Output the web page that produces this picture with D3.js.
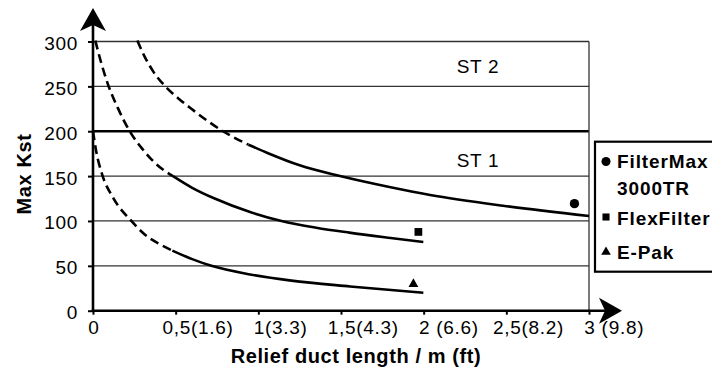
<!DOCTYPE html>
<html>
<head>
<meta charset="utf-8">
<script src="https://cdn.jsdelivr.net/npm/d3@7"></script>
<style>
  html, body { margin: 0; padding: 0; background: #fff; }
  svg { display: block; }
  text { font-family: "Liberation Sans", Arial, Helvetica, sans-serif; fill: #000; }
</style>
</head>
<body>
<svg id="chart" width="712" height="369"></svg>
<script>
// ---------- data ----------
const xTickValues = [0, 0.5, 1, 1.5, 2, 2.5, 3];
const xTickMain   = ["0", "0,5", "1", "1,5", "2", "2,5", "3"];
const xTickRest   = ["", "(1.6)", "(3.3)", "(4.3)", " (6.6)", "(8.2)", " (9.8)"];
const yTickValues = [0, 50, 100, 150, 200, 250, 300];
const gridValues  = [50, 100, 150, 250, 300];
const limitValue  = 200;

const xTitle = "Relief duct length / m (ft)";
const yTitle = "Max Kst";

const zoneLabels  = ["ST 2", "ST 1"];
const zoneLabelX  = [2.2, 2.2];
const zoneLabelY  = [265, 160];

const seriesNames = ["FilterMax", "FlexFilter", "E-Pak"];
const legendLines = [["FilterMax", "3000TR"], ["FlexFilter"], ["E-Pak"]];
const seriesSymbols = ["circle", "square", "triangle"];

// curves: [length m, max Kst]
const filterMaxDashed = [[0.268, 301], [0.31, 284], [0.363, 267], [0.437, 250], [0.52, 236], [0.595, 225], [0.786, 200], [0.94, 185]];
const filterMaxSolid  = [[0.94, 185], [1.059, 175.5], [1.25, 162], [1.494, 150], [1.8, 137.5], [2.039, 129], [2.48, 117], [3.0, 105.5]];
const flexDashed      = [[0.014, 301], [0.05, 276], [0.091, 252], [0.15, 226], [0.222, 200], [0.3, 180], [0.373, 165], [0.484, 150]];
const flexSolid       = [[0.484, 150], [0.6, 137], [0.736, 125], [0.95, 110], [1.14, 100], [1.35, 92.5], [1.55, 87], [1.8, 81], [1.998, 76.5]];
const ePakDashed      = [[0.0, 200], [0.02, 177], [0.055, 152], [0.121, 126], [0.232, 100], [0.313, 85], [0.4, 74.5], [0.48, 67]];
const ePakSolid       = [[0.48, 67], [0.6, 57.5], [0.716, 50], [0.95, 40.4], [1.2, 33.5], [1.555, 27], [1.998, 20]];

// measured points (one per product)
const pointX = [2.912, 1.968, 1.938];
const pointY = [119.3, 87.8, 29.7];

// ---------- drawing ----------
const svg = d3.select("#chart");
const x = d3.scaleLinear().domain([0, 3]).range([93, 589]);
const y = d3.scaleLinear().domain([0, 300]).range([310.7, 41.5]);

// grid lines
svg.append("g").selectAll("line").data(gridValues).join("line")
  .attr("x1", x(0)).attr("x2", x(3))
  .attr("y1", d => y(d)).attr("y2", d => y(d))
  .attr("stroke", "#333").attr("stroke-width", 1.3);
svg.append("line")
  .attr("x1", x(0)).attr("x2", x(3))
  .attr("y1", y(limitValue)).attr("y2", y(limitValue))
  .attr("stroke", "#000").attr("stroke-width", 2.6);
svg.append("line")
  .attr("x1", x(3)).attr("x2", x(3))
  .attr("y1", y(300)).attr("y2", y(0))
  .attr("stroke", "#333").attr("stroke-width", 1.3);

// zone labels
svg.append("g").selectAll("text").data(zoneLabels).join("text")
  .attr("x", (d, i) => x(zoneLabelX[i]))
  .attr("y", (d, i) => y(zoneLabelY[i]))
  .attr("font-size", 19).attr("letter-spacing", 0.7)
  .text(d => d);

// y axis
const yAxis = d3.axisLeft(y).tickValues(yTickValues).tickSize(5).tickPadding(10).tickFormat(d3.format("d"));
const gy = svg.append("g").attr("transform", `translate(${x(0)},0)`).call(yAxis);
gy.select(".domain").remove();
gy.selectAll(".tick line").attr("stroke", "#000").attr("stroke-width", 2);
gy.selectAll(".tick text")
  .attr("font-size", 19).attr("letter-spacing", 0.7)
  .attr("font-family", "Liberation Sans, Arial, sans-serif")
  .attr("dy", null).attr("y", 8).attr("fill", "#000");

// x axis ticks
const xAxis = d3.axisBottom(x).tickValues(xTickValues).tickSize(4).tickFormat("");
const gx = svg.append("g").attr("transform", `translate(0,${y(0)})`).call(xAxis);
gx.select(".domain").remove();
gx.selectAll(".tick line").attr("stroke", "#000").attr("stroke-width", 2);

// x tick labels: number part centered on the tick
const xl = svg.append("g").selectAll("text").data(xTickValues).join("text")
  .attr("y", 334).attr("font-size", 19).attr("letter-spacing", 0.7)
  .attr("style", "white-space: pre");
xl.each(function(d, i) {
  const t = d3.select(this);
  const main = t.append("tspan").text(xTickMain[i]);
  t.append("tspan").text(xTickRest[i]);
  const w = main.node().getComputedTextLength();
  t.attr("x", x(d) - w / 2 + 1);
});

// axis lines with arrows
const axisW = 2.6;
svg.append("line").attr("x1", x(0)).attr("x2", x(0)).attr("y1", y(0) + 1.3).attr("y2", 20)
  .attr("stroke", "#000").attr("stroke-width", axisW);
svg.append("line").attr("x1", x(0) - 1.3).attr("x2", 610).attr("y1", y(0)).attr("y2", y(0))
  .attr("stroke", "#000").attr("stroke-width", axisW);
const ax = x(0), ay = 8;
svg.append("path").attr("d", `M${ax},${ay} L${ax + 13},${ay + 23} L${ax},${ay + 17} L${ax - 13},${ay + 23} Z`).attr("fill", "#000");
const bx = 622, by = y(0);
svg.append("path").attr("d", `M${bx},${by} L${bx - 23},${by - 13} L${bx - 17},${by} L${bx - 23},${by + 13} Z`).attr("fill", "#000");

// curves
const line = d3.line().x(d => x(d[0])).y(d => y(d[1])).curve(d3.curveMonotoneX);
const dashed = [filterMaxDashed, flexDashed, ePakDashed];
const solid = [filterMaxSolid, flexSolid, ePakSolid];
svg.append("g").selectAll("path").data(dashed).join("path")
  .attr("d", line).attr("fill", "none").attr("stroke", "#000")
  .attr("stroke-width", 2.6).attr("stroke-dasharray", "9,5");
svg.append("g").selectAll("path").data(solid).join("path")
  .attr("d", line).attr("fill", "none").attr("stroke", "#000")
  .attr("stroke-width", 2.6).attr("stroke-linecap", "butt");

// symbols
const symType = { circle: d3.symbolCircle, square: d3.symbolSquare, triangle: d3.symbolTriangle };
const symSize = { circle: 68, square: 60, triangle: 42 };
svg.append("g").selectAll("path").data(seriesNames).join("path")
  .attr("transform", (d, i) => `translate(${x(pointX[i])},${y(pointY[i])})`)
  .attr("d", (d, i) => d3.symbol().type(symType[seriesSymbols[i]]).size(symSize[seriesSymbols[i]])())
  .attr("fill", "#000");

// axis titles
svg.append("text").attr("x", 356).attr("y", 363)
  .attr("text-anchor", "middle").attr("font-weight", "bold").attr("font-size", 20).attr("letter-spacing", 0.6)
  .text(xTitle);
svg.append("text").attr("transform", "translate(31,174) rotate(-90)")
  .attr("text-anchor", "middle").attr("font-weight", "bold").attr("font-size", 20).attr("letter-spacing", 0.6)
  .text(yTitle);

// legend
const lg = svg.append("g");
lg.append("rect").attr("x", 595).attr("y", 141.7).attr("width", 140).attr("height", 130)
  .attr("fill", "#fff").attr("stroke", "#000").attr("stroke-width", 2.2);
const legendBase = [[168, 195], [225], [259]];
const legendSymY = [161.5, 217, 252];
const legendSymSize = { circle: 64, square: 50, triangle: 40 };
seriesNames.forEach((name, i) => {
  lg.append("path")
    .attr("transform", `translate(606,${legendSymY[i]})`)
    .attr("d", d3.symbol().type(symType[seriesSymbols[i]]).size(legendSymSize[seriesSymbols[i]])())
    .attr("fill", "#000");
  legendLines[i].forEach((ln, j) => {
    lg.append("text").attr("x", 617).attr("y", legendBase[i][j])
      .attr("font-weight", "bold").attr("font-size", 19).attr("letter-spacing", 0.9)
      .text(ln);
  });
});
</script>
</body>
</html>
